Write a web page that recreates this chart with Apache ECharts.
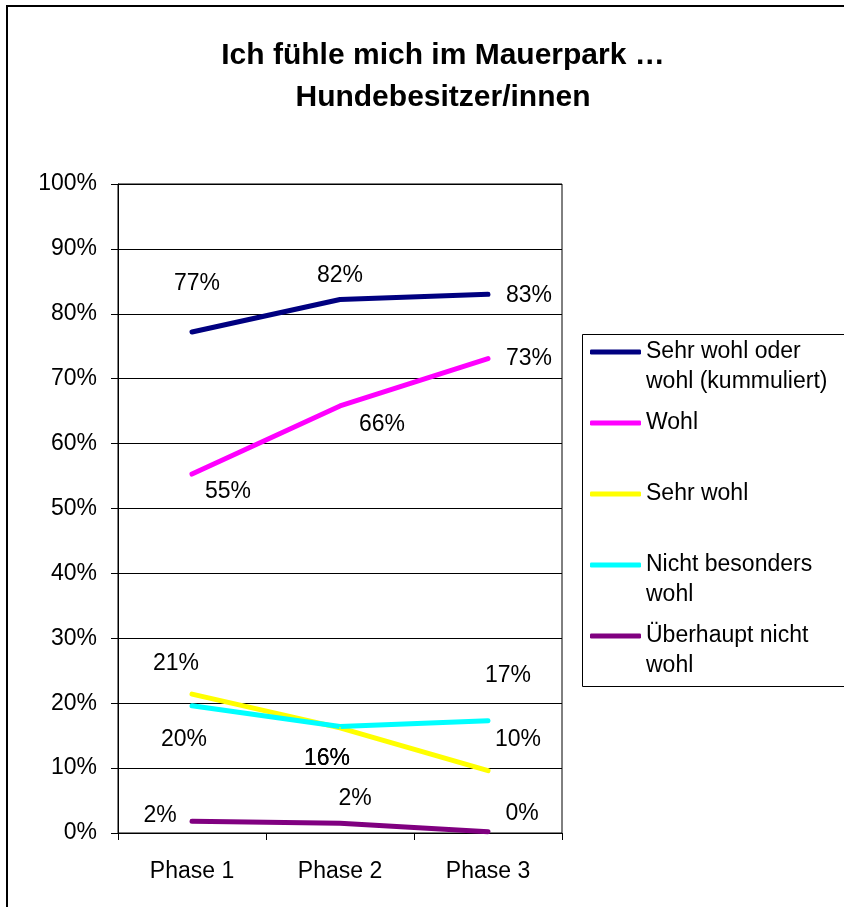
<!DOCTYPE html>
<html>
<head>
<meta charset="utf-8">
<script src="https://cdn.jsdelivr.net/npm/echarts@6/dist/echarts.min.js"></script>
<style>
  html, body { margin: 0; padding: 0; background: #fff; }
  #chart { width: 844px; height: 907px; }
</style>
</head>
<body>
<div id="chart"></div>
<script>
var phases = ['Phase 1', 'Phase 2', 'Phase 3']
var yTicks = [0, 10, 20, 30, 40, 50, 60, 70, 80, 90, 100]

var seriesNames = ['Sehr wohl oder\nwohl (kummuliert)', 'Wohl', 'Sehr wohl', 'Nicht besonders\nwohl', 'Überhaupt nicht\nwohl']
var kummuliert = [77.2, 82.2, 83.0]
var wohl = [55.3, 65.8, 73.1]
var sehrWohl = [21.4, 16.2, 9.6]
var nichtBesonders = [19.6, 16.4, 17.3]
var ueberhauptNicht = [1.8, 1.5, 0.2]

var colors = ['#000080', '#ff00ff', '#ffff00', '#00ffff', '#800080']

// where each data label sits relative to its point
var labelOffsets = [
  [[5, -48], [0, -24], [41, 1]],
  [[36, 18], [42, 19], [41, 0]],
  [[-16, -30], [-13, 31], [30, -31]],
  [[-8, 34], [-13, 32], [20, -45]],
  [[-32, -6], [15, -25], [34, -18]]
]

var font = 'Liberation Sans, Arial, sans-serif'

function makeSeries(idx, values) {
  return {
    name: seriesNames[idx],
    type: 'line',
    symbol: 'circle',
    symbolSize: 2,
    showSymbol: true,
    color: colors[idx],
    lineStyle: { color: colors[idx], width: 5, cap: 'round' },
    itemStyle: { color: colors[idx] },
    label: {
      show: true,
      position: 'inside',
      color: '#000',
      fontSize: 23,
      fontFamily: font,
      formatter: function (p) {
        return Math.round(p.value) + '%'
      }
    },
    data: values.map(function (v, i) {
      return { value: v, label: { offset: labelOffsets[idx][i] } }
    }),
    animation: false
  }
}

var chart = echarts.init(document.getElementById('chart'))
chart.setOption({
  backgroundColor: '#fff',
  title: {
    text: 'Ich fühle mich im Mauerpark …\nHundebesitzer/innen',
    left: 443,
    top: 35,
    padding: 0,
    textAlign: 'center',
    textStyle: {
      fontFamily: font,
      fontWeight: 'bold',
      fontSize: 30,
      lineHeight: 42,
      color: '#000'
    }
  },
  graphic: [
    {
      type: 'rect',
      shape: { x: 7, y: 6, width: 900, height: 960 },
      style: { fill: 'none', stroke: '#000', lineWidth: 2 },
      silent: true
    },
    {
      type: 'rect',
      shape: { x: 582.5, y: 334.5, width: 300, height: 352 },
      style: { fill: 'none', stroke: '#000', lineWidth: 1 },
      silent: true
    }
  ],
  legend: {
    orient: 'vertical',
    left: 590,
    top: 307,
    padding: 0,
    itemGap: -19,
    itemWidth: 51,
    itemHeight: 5,
    icon: 'roundRect',
    data: seriesNames,
    // blank first line so the symbol lines up with the first text line
    formatter: function (name) {
      return ' \n' + (name.indexOf('\n') >= 0 ? name : name + '\n ')
    },
    textStyle: {
      fontFamily: font,
      fontSize: 23,
      lineHeight: 30,
      color: '#000'
    }
  },
  grid: {
    left: 118,
    top: 184,
    right: 282,
    bottom: 74,
    show: true,
    borderColor: '#000',
    borderWidth: 1
  },
  xAxis: {
    type: 'category',
    data: phases,
    boundaryGap: true,
    axisLine: { lineStyle: { color: '#000', width: 1 } },
    axisTick: { show: true, length: 7, lineStyle: { color: '#000' } },
    axisLabel: { color: '#000', fontSize: 23, fontFamily: font, margin: 27 }
  },
  yAxis: {
    type: 'value',
    min: yTicks[0],
    max: yTicks[yTicks.length - 1],
    interval: 10,
    axisLine: { show: true, lineStyle: { color: '#000', width: 1 } },
    axisTick: { show: true, length: 7, lineStyle: { color: '#000' } },
    splitLine: { show: true, lineStyle: { color: '#000', width: 1 } },
    axisLabel: { color: '#000', fontSize: 23, fontFamily: font, margin: 21, formatter: '{value}%' }
  },
  series: [
    makeSeries(0, kummuliert),
    makeSeries(1, wohl),
    makeSeries(2, sehrWohl),
    makeSeries(3, nichtBesonders),
    makeSeries(4, ueberhauptNicht)
  ]
})
</script>
</body>
</html>
